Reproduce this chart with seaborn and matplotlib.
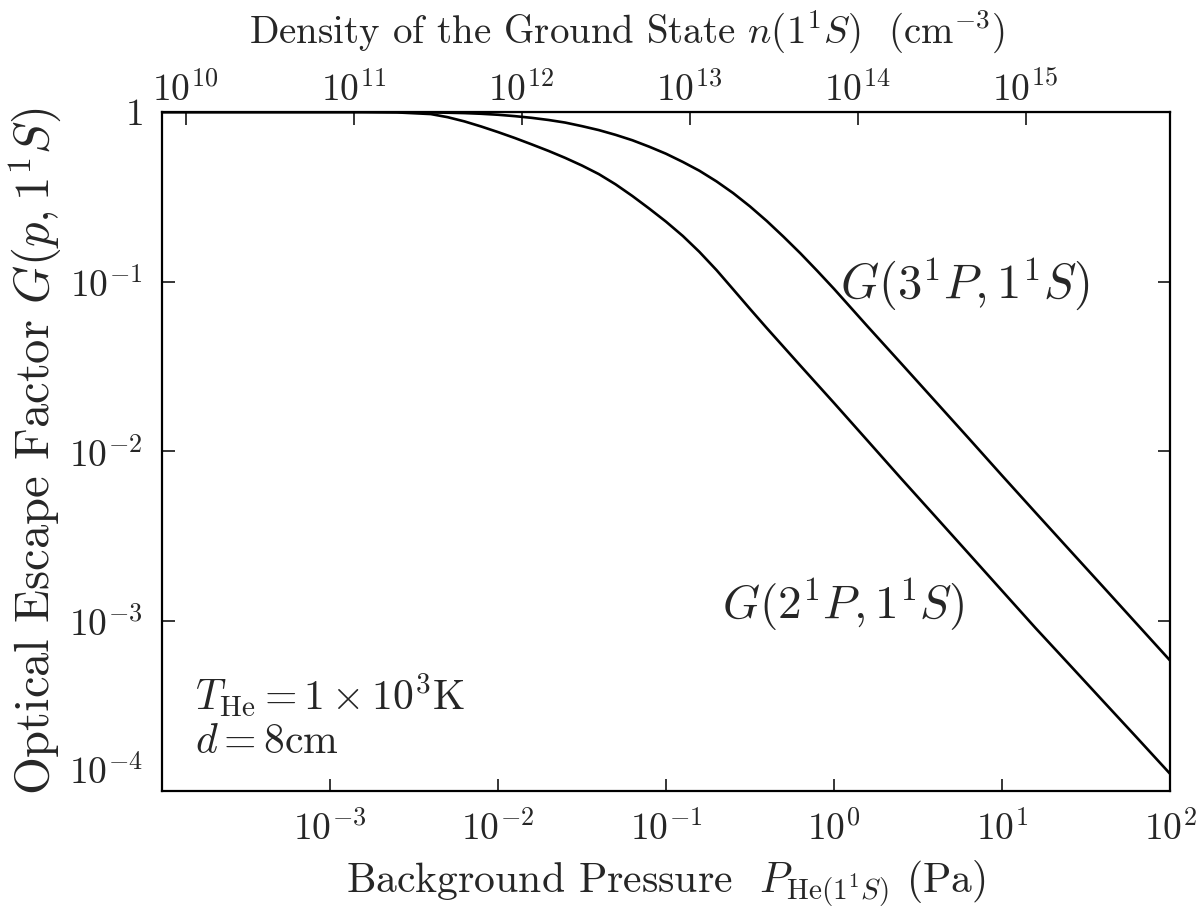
import numpy as np
import pandas as pd
import matplotlib
matplotlib.use("Agg")
import matplotlib.pyplot as plt
import seaborn as sns

# Background pressure (Pa) and escape factor along the 3^1P -> 1^1S curve
p_3P = [1e-4, 0.00251, 0.00398, 0.00501, 0.00631, 0.00794, 0.01, 0.0126,
        0.0158, 0.02, 0.0251, 0.0316, 0.0398, 0.0501, 0.0631, 0.0794, 0.1,
        0.126, 0.158, 0.2, 0.251, 0.316, 0.398, 0.501, 0.631, 0.794, 1.0,
        1.58, 2.51, 3.98, 6.31, 10.0, 15.8, 25.1, 39.8, 63.1, 100.0]
g_3P = [1.0, 1.0, 0.995, 0.991, 0.986, 0.977, 0.964, 0.946,
        0.925, 0.898, 0.867, 0.826, 0.783, 0.734, 0.682, 0.625, 0.568,
        0.508, 0.451, 0.390, 0.333, 0.278, 0.228, 0.184, 0.147, 0.116, 0.0908,
        0.0547, 0.0330, 0.0199, 0.0120, 0.00721, 0.00437, 0.00264, 0.00160,
        0.000968, 0.000586]

# Background pressure (Pa) and escape factor along the 2^1P -> 1^1S curve
p_2P = [1e-4, 0.00158, 0.00251, 0.00398, 0.00501, 0.00631, 0.00794, 0.01,
        0.0126, 0.0158, 0.02, 0.0251, 0.0316, 0.0398, 0.0501, 0.0631, 0.0794,
        0.1, 0.126, 0.158, 0.2, 0.251, 0.316, 0.398, 0.631, 1.0, 1.58, 2.51,
        3.98, 6.31, 10.0, 15.8, 25.1, 39.8, 63.1, 100.0]
g_2P = [1.0, 1.0, 0.995, 0.973, 0.933, 0.881, 0.822, 0.762,
        0.703, 0.646, 0.590, 0.537, 0.484, 0.431, 0.375, 0.320, 0.270,
        0.226, 0.186, 0.150, 0.117, 0.0902, 0.0692, 0.0533, 0.0320, 0.0193,
        0.0116, 0.00692, 0.00417, 0.00251, 0.00151, 0.000912, 0.000556,
        0.000339, 0.000207, 0.000126]

x_ticks = [1e-3, 1e-2, 1e-1, 1e0, 1e1, 1e2]
y_ticks = [1e-4, 1e-3, 1e-2, 1e-1, 1e0]
y_tick_labels = [r"$10^{-4}$", r"$10^{-3}$", r"$10^{-2}$", r"$10^{-1}$", r"$1$"]
n_ticks = [1e10, 1e11, 1e12, 1e13, 1e14, 1e15]

# ground-state density per unit pressure at T = 1000 K, in cm^-3 / Pa
N_PER_PA = 1.0 / (1.380649e-23 * 1.0e3) * 1e-6

sns.set_style("ticks")
plt.rcParams["font.family"] = ["cmr10"]
plt.rcParams["mathtext.fontset"] = "cm"
plt.rcParams["axes.formatter.use_mathtext"] = True
plt.rcParams["axes.unicode_minus"] = False

df_3P = pd.DataFrame({"p": p_3P, "G": g_3P})
df_2P = pd.DataFrame({"p": p_2P, "G": g_2P})

fig, ax = plt.subplots(figsize=(12, 9.11), dpi=100)
fig.subplots_adjust(left=0.135, right=0.975, top=0.877, bottom=0.132)

sns.lineplot(data=df_3P, x="p", y="G", color="black", lw=1.9, ax=ax,
             estimator=None)
sns.lineplot(data=df_2P, x="p", y="G", color="black", lw=1.9, ax=ax,
             estimator=None)

ax.set_xscale("log")
ax.set_yscale("log")
ax.set_xlim(1e-4, 1e2)
ax.set_ylim(1e-4, 1.0)

ax.set_xticks(x_ticks)
ax.set_yticks(y_ticks)
ax.set_yticklabels(y_tick_labels)
ax.minorticks_off()
ax.tick_params(axis="both", which="major", direction="in", length=9, width=1.3,
               labelsize=27, pad=14, right=True)
ax.tick_params(axis="x", top=False)
ax.yaxis.get_major_ticks()[0].label1.set_va("bottom")
for s in ax.spines.values():
    s.set_linewidth(1.6)
    s.set_color("black")

ax.set_xlabel(r"Background Pressure  $P_{\mathrm{He}(1^1S)}$ (Pa)", fontsize=30,
              labelpad=8)
ax.set_ylabel(r"Optical Escape Factor $G(p,1^1S)$", fontsize=35, labelpad=4)

secax = ax.secondary_xaxis("top", functions=(lambda p: p * N_PER_PA,
                                             lambda n: n / N_PER_PA))
secax.set_xticks(n_ticks)
secax.minorticks_off()
secax.tick_params(direction="in", length=9, width=1.3, labelsize=27, pad=3)
secax.set_xlabel(r"Density of the Ground State $n(1^1S)$  (cm$^{-3}$)",
                 fontsize=28, labelpad=20, x=0.461)

ax.text(0.673, 0.748, r"$G(3^1P,1^1S)$", transform=ax.transAxes, fontsize=35,
        va="center", ha="left")
ax.text(0.556, 0.273, r"$G(2^1P,1^1S)$", transform=ax.transAxes, fontsize=34,
        va="center", ha="left")
ax.text(0.033, 0.14, r"$T_{\mathrm{He}} = 1\times10^3\mathrm{K}$",
        transform=ax.transAxes, fontsize=30, va="center", ha="left")
ax.text(0.033, 0.071, r"$d = 8\mathrm{cm}$", transform=ax.transAxes,
        fontsize=30, va="center", ha="left")

fig.savefig("out.png", dpi=100)
